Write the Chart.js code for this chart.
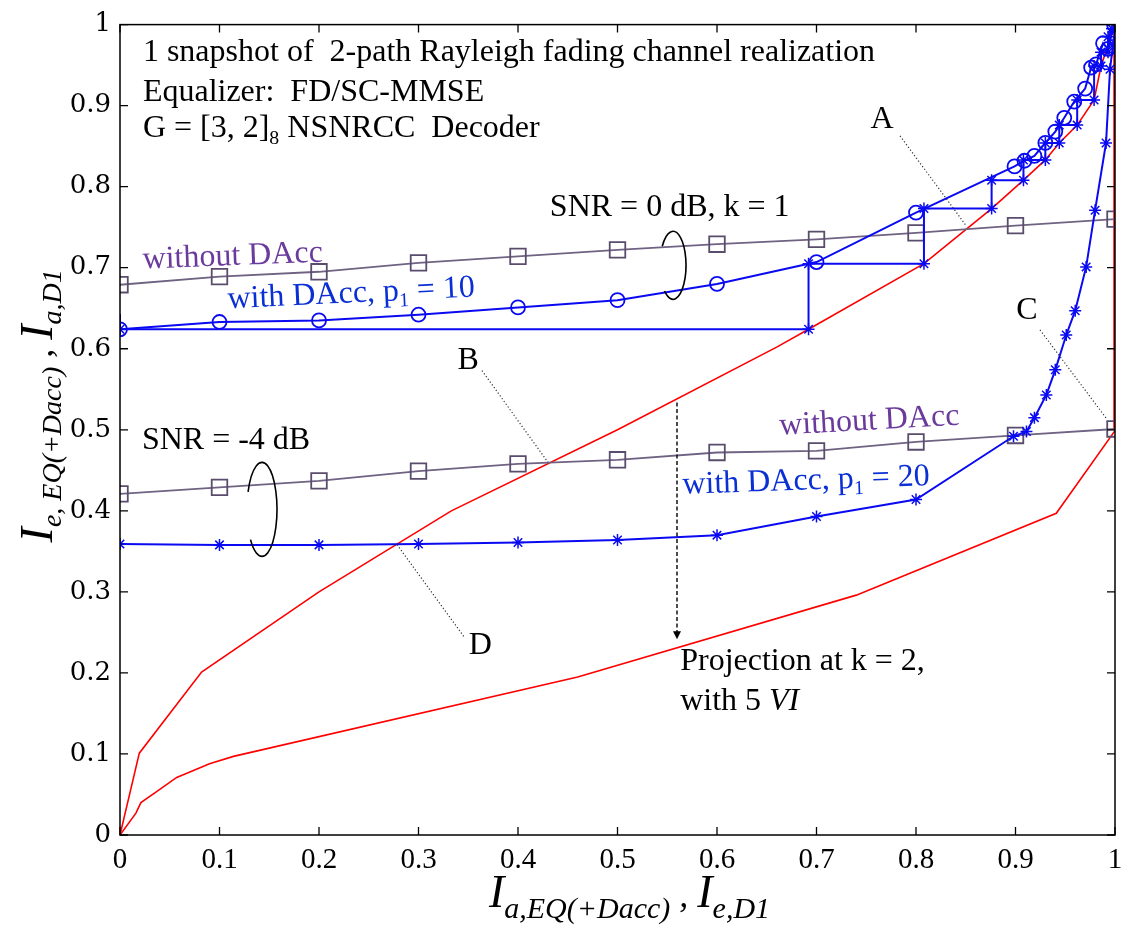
<!DOCTYPE html>
<html>
<head>
<meta charset="utf-8">
<script src="https://cdn.jsdelivr.net/npm/chart.js@4.4.0/dist/chart.umd.min.js"></script>
<style>
  html, body { margin: 0; padding: 0; background: #fff; }
  #wrap { width: 1133px; height: 934px; }
</style>
</head>
<body>
<div id="wrap"><canvas id="exit" width="1133" height="934"></canvas></div>
<script>
// ---- axis ticks ----
const xTicks = [0, 0.1, 0.2, 0.3, 0.4, 0.5, 0.6, 0.7, 0.8, 0.9, 1];
const xTickLabels = ['0', '0.1', '0.2', '0.3', '0.4', '0.5', '0.6', '0.7', '0.8', '0.9', '1'];
const yTicks = [0, 0.1, 0.2, 0.3, 0.4, 0.5, 0.6, 0.7, 0.8, 0.9, 1];
const yTickLabels = ['0', '0.1', '0.2', '0.3', '0.4', '0.5', '0.6', '0.7', '0.8', '0.9', '1'];

// ---- decoder curves (Ia,D1 vs Ie,D1, axes swapped) ----
const decUpperX = [0, 0.0194, 0.082, 0.2, 0.333, 0.5, 0.66, 0.692, 0.808, 0.876, 0.908, 0.930, 0.944, 0.962, 0.979, 0.986, 1.0];
const decUpperY = [0, 0.101, 0.201, 0.300, 0.400, 0.500, 0.602, 0.624, 0.705, 0.773, 0.808, 0.833, 0.854, 0.876, 0.907, 0.949, 1.0];
const decLowerX = [0, 0.016, 0.021, 0.035, 0.057, 0.090, 0.114, 0.46, 0.74, 0.941, 1.0, 1.0];
const decLowerY = [0, 0.027, 0.040, 0.052, 0.071, 0.088, 0.097, 0.195, 0.296, 0.397, 0.499, 1.0];

// ---- SNR = 0 dB, k = 1 ----
const eqGridX = [0, 0.1, 0.2, 0.3, 0.4, 0.5, 0.6, 0.7, 0.8, 0.9, 1.0];
const snr0NoDaccY = [0.679, 0.689, 0.695, 0.706, 0.714, 0.722, 0.729, 0.735, 0.743, 0.752, 0.760];
const snr0DaccX = [0, 0.1, 0.2, 0.3, 0.4, 0.5, 0.6, 0.7, 0.8, 0.899, 0.909, 0.919, 0.930, 0.940, 0.949, 0.959, 0.970, 0.976, 0.981, 0.988, 0.993, 0.999];
const snr0DaccY = [0.624, 0.633, 0.635, 0.642, 0.651, 0.660, 0.680, 0.707, 0.768, 0.825, 0.832, 0.838, 0.854, 0.868, 0.885, 0.905, 0.921, 0.947, 0.951, 0.977, 0.970, 1.0];
const trajX = [0, 0, 0.692, 0.692, 0.808, 0.808, 0.876, 0.876, 0.908, 0.908, 0.930, 0.930, 0.944, 0.944, 0.962, 0.962, 0.979, 0.979, 0.986, 0.986, 0.993, 0.993, 0.997];
const trajY = [0.643, 0.624, 0.624, 0.705, 0.705, 0.773, 0.773, 0.808, 0.808, 0.833, 0.833, 0.854, 0.854, 0.876, 0.876, 0.907, 0.907, 0.949, 0.949, 0.966, 0.966, 0.985, 0.995];

// ---- SNR = -4 dB ----
const snrm4NoDaccY = [0.421, 0.429, 0.437, 0.449, 0.458, 0.463, 0.472, 0.474, 0.485, 0.493, 0.501];
const snrm4DaccX = [0, 0.1, 0.2, 0.3, 0.4, 0.5, 0.6, 0.7, 0.8, 0.898, 0.911, 0.919, 0.931, 0.940, 0.951, 0.960, 0.971, 0.980, 0.991, 0.995, 0.998, 1.0];
const snrm4DaccY = [0.359, 0.358, 0.358, 0.359, 0.361, 0.364, 0.370, 0.393, 0.414, 0.492, 0.498, 0.515, 0.543, 0.574, 0.617, 0.647, 0.701, 0.771, 0.854, 0.945, 0.975, 0.992];

const zip = (xs, ys) => xs.map((x, i) => ({ x, y: ys[i] }));

const RED = '#ff0000';
const BLUE = '#0a0af2';
const PURPLE_LINE = '#6f6282';
const PURPLE_MARK = '#5a4c6c';
const PURPLE_TEXT = '#6a3a9c';
const BLUE_TEXT = '#0a2fd4';
const SERIF = '"Liberation Serif", "Times New Roman", serif';
const WIDE_SERIF = '"DejaVu Serif", serif';

const datasets = [
  { label: 'traj0', data: zip(trajX, trajY), borderColor: BLUE, borderWidth: 2,
    pointStyle: 'star', pointRadius: c => (c.dataIndex === 0 ? 0 : 6), pointBorderColor: BLUE, pointBorderWidth: 1.5 },
  { label: 'snr0Dacc', data: zip(snr0DaccX, snr0DaccY), borderColor: BLUE, borderWidth: 2,
    pointStyle: 'circle', pointRadius: 7, pointBorderColor: BLUE, pointBackgroundColor: 'rgba(0,0,0,0)', pointBorderWidth: 1.8 },
  { label: 'snrm4Dacc', data: zip(snrm4DaccX, snrm4DaccY), borderColor: BLUE, borderWidth: 2,
    pointStyle: 'star', pointRadius: 6, pointBorderColor: BLUE, pointBorderWidth: 1.5 },
  { label: 'snr0NoDacc', data: zip(eqGridX, snr0NoDaccY), borderColor: PURPLE_LINE, borderWidth: 1.8,
    pointStyle: 'rect', pointRadius: 11, pointBorderColor: PURPLE_MARK, pointBackgroundColor: 'rgba(0,0,0,0)', pointBorderWidth: 1.8 },
  { label: 'snrm4NoDacc', data: zip(eqGridX, snrm4NoDaccY), borderColor: PURPLE_LINE, borderWidth: 1.8,
    pointStyle: 'rect', pointRadius: 11, pointBorderColor: PURPLE_MARK, pointBackgroundColor: 'rgba(0,0,0,0)', pointBorderWidth: 1.8 },
  { label: 'decUpper', data: zip(decUpperX, decUpperY), borderColor: RED, borderWidth: 1.6, pointRadius: 0 },
  { label: 'decLower', data: zip(decLowerX, decLowerY), borderColor: RED, borderWidth: 1.6, pointRadius: 0,
    segment: { borderWidth: s => (s.p0DataIndex === decLowerX.length - 2 ? 3.5 : 1.6) } }
].map(d => Object.assign({ showLine: true, fill: false, tension: 0 }, d));

// ---- text and marks placed on the plot (data coordinates) ----
const notes = [
  { x: 0.023, y: 0.955, segs: [{ t: '1 snapshot of  2-path Rayleigh fading channel realization' }] },
  { x: 0.023, y: 0.906, segs: [{ t: 'Equalizer:  FD/SC-MMSE' }] },
  { x: 0.023, y: 0.861, segs: [{ t: 'G = [3, 2]' }, { t: '8', sub: true }, { t: ' NSNRCC  Decoder' }] },
  { x: 0.766, y: 0.872, align: 'center', segs: [{ t: 'A' }] },
  { x: 0.432, y: 0.764, segs: [{ t: 'SNR = 0 dB, k = 1' }] },
  { x: 0.023, y: 0.699, rot: -2.2, color: PURPLE_TEXT, segs: [{ t: 'without DAcc' }] },
  { x: 0.1085, y: 0.650, rot: -2.7, color: BLUE_TEXT, segs: [{ t: 'with DAcc, p' }, { t: '1', sub: true }, { t: ' = 10' }] },
  { x: 0.35, y: 0.575, align: 'center', segs: [{ t: 'B' }] },
  { x: 0.9115, y: 0.637, align: 'center', segs: [{ t: 'C' }] },
  { x: 0.022, y: 0.476, segs: [{ t: 'SNR = -4 dB' }] },
  { x: 0.663, y: 0.494, rot: -3.2, color: PURPLE_TEXT, segs: [{ t: 'without DAcc' }] },
  { x: 0.5655, y: 0.421, rot: -2.0, color: BLUE_TEXT, segs: [{ t: 'with DAcc, p' }, { t: '1', sub: true }, { t: ' = 20' }] },
  { x: 0.362, y: 0.2233, align: 'center', segs: [{ t: 'D' }] },
  { x: 0.563, y: 0.2037, segs: [{ t: 'Projection at k = 2,' }] },
  { x: 0.563, y: 0.1546, segs: [{ t: 'with 5 ' }, { t: 'VI', italic: true }] }
];
const leaders = [
  [0.784, 0.8626, 0.851, 0.7509],
  [0.3638, 0.573, 0.43, 0.4601],
  [0.9246, 0.6233, 0.992, 0.5129],
  [0.2784, 0.3583, 0.3467, 0.243]
];
// loops grouping the curve pairs: centre, radii in px, arc angles in degrees
const loops = [
  { x: 0.5558, y: 0.703, rx: 13, ry: 34, a0: 214, a1: 491 },
  { x: 0.1427, y: 0.4018, rx: 15, ry: 47, a0: 202, a1: 500 }
];
const projArrow = { x: 0.5598, y0: 0.5337, y1: 0.2417 };

function drawSegs(ctx, x, y, segs, opt) {
  const size = opt.size || 32;
  ctx.save();
  ctx.translate(x, y);
  if (opt.rot) ctx.rotate(opt.rot * Math.PI / 180);
  ctx.fillStyle = opt.color || '#000';
  ctx.textBaseline = 'alphabetic';
  ctx.textAlign = 'left';
  const fontOf = s => {
    const sz = s.size || (s.sub ? size * 0.62 : size);
    const it = s.italic !== undefined ? s.italic : opt.italic;
    return (it ? 'italic ' : '') + sz + 'px ' + SERIF;
  };
  let w = 0;
  segs.forEach(s => { ctx.font = fontOf(s); w += ctx.measureText(s.t).width; });
  let cx = opt.align === 'center' ? -w / 2 : 0;
  segs.forEach(s => {
    ctx.font = fontOf(s);
    const dy = s.dy !== undefined ? s.dy : (s.sub ? size * 0.2 : 0);
    ctx.fillText(s.t, cx, dy);
    cx += ctx.measureText(s.t).width;
  });
  ctx.restore();
}

const decor = {
  id: 'decor',
  afterDatasetsDraw(chart) {
    const { ctx, chartArea: a, scales: { x: sx, y: sy } } = chart;
    ctx.save();
    // frame and inward ticks on all four sides
    ctx.strokeStyle = '#000';
    ctx.lineWidth = 1.5;
    ctx.strokeRect(a.left, a.top, a.right - a.left, a.bottom - a.top);
    ctx.lineWidth = 1.3;
    ctx.beginPath();
    const tl = 8;
    xTicks.forEach(v => {
      const p = sx.getPixelForValue(v);
      ctx.moveTo(p, a.bottom); ctx.lineTo(p, a.bottom - tl);
      ctx.moveTo(p, a.top); ctx.lineTo(p, a.top + tl);
    });
    yTicks.forEach(v => {
      const p = sy.getPixelForValue(v);
      ctx.moveTo(a.left, p); ctx.lineTo(a.left + tl, p);
      ctx.moveTo(a.right, p); ctx.lineTo(a.right - tl, p);
    });
    ctx.stroke();

    // dotted leader lines
    ctx.strokeStyle = '#333';
    ctx.lineWidth = 1.2;
    ctx.setLineDash([1.2, 2.2]);
    leaders.forEach(l => {
      ctx.beginPath();
      ctx.moveTo(sx.getPixelForValue(l[0]), sy.getPixelForValue(l[1]));
      ctx.lineTo(sx.getPixelForValue(l[2]), sy.getPixelForValue(l[3]));
      ctx.stroke();
    });

    // dashed projection arrow
    const ax = sx.getPixelForValue(projArrow.x);
    const ay0 = sy.getPixelForValue(projArrow.y0);
    const ay1 = sy.getPixelForValue(projArrow.y1);
    ctx.strokeStyle = '#000';
    ctx.lineWidth = 1.4;
    ctx.setLineDash([4, 2.5]);
    ctx.beginPath(); ctx.moveTo(ax, ay0); ctx.lineTo(ax, ay1 - 6); ctx.stroke();
    ctx.setLineDash([]);
    ctx.fillStyle = '#000';
    ctx.beginPath(); ctx.moveTo(ax, ay1); ctx.lineTo(ax - 4, ay1 - 8); ctx.lineTo(ax + 4, ay1 - 8); ctx.closePath(); ctx.fill();

    // grouping loops
    ctx.lineWidth = 1.6;
    loops.forEach(o => {
      ctx.beginPath();
      ctx.ellipse(sx.getPixelForValue(o.x), sy.getPixelForValue(o.y), o.rx, o.ry, 0,
        o.a0 * Math.PI / 180, o.a1 * Math.PI / 180);
      ctx.stroke();
    });

    // text on the plot
    notes.forEach(n => drawSegs(ctx, sx.getPixelForValue(n.x), sy.getPixelForValue(n.y), n.segs,
      { rot: n.rot, color: n.color, align: n.align, size: 32 }));

    // axis titles
    const titleX = [{ t: 'I', size: 46 }, { t: 'a,EQ(+Dacc)', size: 30, dy: 11 }, { t: ' , ', size: 36 },
      { t: 'I', size: 46 }, { t: 'e,D1', size: 30, dy: 11 }];
    const titleY = [{ t: 'I', size: 46 }, { t: 'e, EQ(+Dacc)', size: 28, dy: 9 }, { t: ' , ', size: 36 },
      { t: 'I', size: 46 }, { t: 'a,D1', size: 28, dy: 9 }];
    drawSegs(ctx, (a.left + a.right) / 2 + 12, 907, titleX, { italic: true, align: 'center', size: 36 });
    drawSegs(ctx, 52, (a.top + a.bottom) / 2 - 24, titleY, { italic: true, align: 'center', size: 36, rot: -90 });
    ctx.restore();
  }
};

new Chart(document.getElementById('exit'), {
  type: 'scatter',
  data: { datasets },
  options: {
    responsive: false,
    animation: false,
    layout: { padding: { left: 0, right: 18, top: 20, bottom: 0 } },
    plugins: { legend: { display: false }, tooltip: { enabled: false } },
    scales: {
      x: {
        type: 'linear', min: 0, max: 1,
        afterFit(s) { s.height = 99; },
        afterBuildTicks(s) { s.ticks = xTicks.map(v => ({ value: v })); },
        grid: { display: false, drawTicks: false },
        border: { display: false },
        ticks: { padding: 8, autoSkip: false, maxRotation: 0, color: '#000',
          font: { family: SERIF, size: 29 }, callback: (v, i) => xTickLabels[i] }
      },
      y: {
        type: 'linear', min: 0, max: 1,
        afterFit(s) { s.width = 120; },
        afterBuildTicks(s) { s.ticks = yTicks.map(v => ({ value: v })); },
        grid: { display: false, drawTicks: false },
        border: { display: false },
        ticks: { padding: 9, autoSkip: false, color: '#000',
          font: { family: WIDE_SERIF, size: 26 }, callback: (v, i) => yTickLabels[i] }
      }
    }
  },
  plugins: [decor]
});
</script>
</body>
</html>
